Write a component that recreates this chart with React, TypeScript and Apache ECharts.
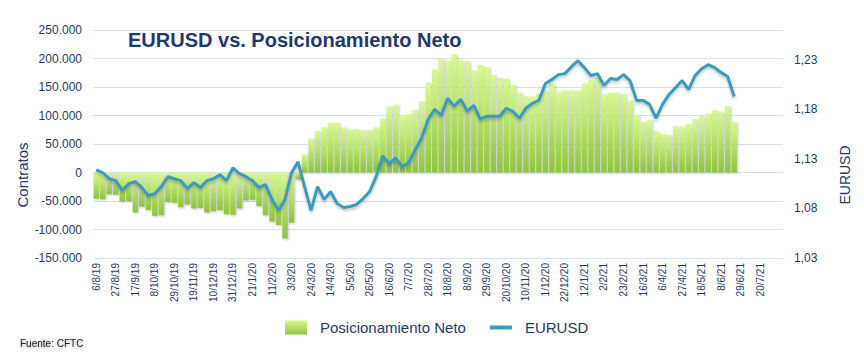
import React, { useEffect, useRef } from "react";
import * as echarts from "echarts";

// Weekly CFTC report dates, starting 6/8/2019 (106 weekly slots on the axis)
const START_DATE = "2019-08-06";
const WEEK_COUNT = 106;

// Net positioning (contracts), weekly
const netPositioning: number[] = [
  -46000, -47000, -38000, -39000, -51000, -50000, -70000, -60000, -66000, -76000,
  -75000, -52000, -53000, -61000, -56000, -63000, -62000, -70000, -68000, -66000,
  -73000, -74000, -63000, -49000, -48000, -59000, -75000, -86000, -92000, -116000,
  -88000, -12000, 32000, 60000, 73000, 79000, 87000, 87000, 79000, 76000,
  76000, 74000, 75000, 79000, 95000, 116000, 119000, 100000, 103000, 110000,
  125000, 158000, 181000, 200000, 197000, 207000, 197000, 196000, 179000, 189000,
  185000, 171000, 166000, 164000, 154000, 140000, 134000, 133000, 138000, 144000,
  156000, 142000, 144000, 144000, 144000, 156000, 162000, 166000, 137000, 140000,
  140000, 138000, 126000, 101000, 89000, 92000, 73000, 68000, 66000, 81000,
  81000, 85000, 94000, 99000, 103000, 109000, 107000, 117000, 89000,
];

// EURUSD weekly close
const eurusd: number[] = [
  1.119, 1.116, 1.110, 1.108, 1.098, 1.105, 1.107, 1.101, 1.093, 1.095,
  1.102, 1.112, 1.110, 1.108, 1.100, 1.106, 1.101, 1.108, 1.110, 1.114,
  1.108, 1.121, 1.115, 1.112, 1.108, 1.101, 1.104, 1.089, 1.078, 1.089,
  1.116, 1.127, 1.102, 1.078, 1.102, 1.089, 1.097, 1.085, 1.081, 1.082,
  1.084, 1.090, 1.097, 1.112, 1.133, 1.125, 1.131, 1.122, 1.126, 1.139,
  1.151, 1.170, 1.180, 1.174, 1.191, 1.183, 1.190, 1.178, 1.184, 1.170,
  1.173, 1.173, 1.173, 1.181, 1.178, 1.171, 1.181, 1.186, 1.189, 1.206,
  1.210, 1.215, 1.216, 1.223, 1.229, 1.222, 1.214, 1.216, 1.204, 1.211,
  1.210, 1.215, 1.209, 1.189, 1.189, 1.185, 1.171, 1.185, 1.195, 1.202,
  1.209, 1.200, 1.214, 1.221, 1.225, 1.222, 1.217, 1.213, 1.193,
];

const leftTicks = { min: -150000, max: 250000, interval: 50000 };
const rightTicks = { min: 1.03, max: 1.26, interval: 0.05 };

function buildCategories(): string[] {
  const out: string[] = [];
  const d0 = new Date(START_DATE + "T12:00:00Z");
  for (let i = 0; i < WEEK_COUNT; i++) {
    const d = new Date(d0.getTime() + i * 7 * 86400000);
    out.push(`${d.getUTCDate()}/${d.getUTCMonth() + 1}/${String(d.getUTCFullYear()).slice(2)}`);
  }
  return out;
}

const NAVY = "#1f3a6e";
const LINE = "#3a9bbf";
const FONT = "Liberation Sans";

export default function App() {
  const ref = useRef<HTMLDivElement>(null);
  useEffect(() => {
    if (!ref.current) return;
    const chart = echarts.init(ref.current, undefined, { renderer: "svg" });
    const categories = buildCategories();
    const barGradient = new echarts.graphic.LinearGradient(0, 0, 0, 1, [
      { offset: 0, color: "#daf994" },
      { offset: 1, color: "#8fc43d" },
    ]);
    chart.setOption({
      animation: false,
      textStyle: { fontFamily: FONT },
      title: {
        text: "EURUSD vs. Posicionamiento Neto",
        left: 128,
        top: 30,
        padding: 0,
        textStyle: { fontFamily: FONT, fontSize: 20, fontWeight: "bold", color: NAVY },
      },
      legend: {
        left: 285,
        top: 320,
        padding: 0,
        itemWidth: 22,
        itemHeight: 14,
        itemGap: 22,
        textStyle: { fontFamily: FONT, fontSize: 15, color: NAVY, padding: [0, 0, 0, 8] },
        data: [
          { name: "Posicionamiento Neto", icon: "rect" },
          {
            name: "EURUSD",
            itemStyle: { opacity: 0 },
            lineStyle: { width: 4, color: LINE, shadowBlur: 0, shadowOffsetY: 0 },
          },
        ],
      },
      grid: { left: 93, right: 81, top: 30, bottom: 99, containLabel: false },
      xAxis: {
        type: "category",
        data: categories,
        boundaryGap: true,
        axisLine: { show: false, onZero: false },
        axisTick: { show: false },
        axisLabel: {
          rotate: 90,
          fontSize: 10,
          color: NAVY,
          margin: 5,
          interval: (i: number) => i % 3 === 0 && i <= 102,
        },
        splitLine: { show: false },
      },
      yAxis: [
        {
          type: "value",
          min: leftTicks.min,
          max: leftTicks.max,
          interval: leftTicks.interval,
          axisLine: { show: false },
          axisTick: { show: false },
          axisLabel: {
            fontSize: 12,
            color: NAVY,
            margin: 11,
            formatter: (v: number) => (v === 0 ? "0" : `${Math.round(v / 1000)}.000`),
          },
          splitLine: { lineStyle: { color: "#d5e0f0", width: 1 } },
        },
        {
          type: "value",
          min: rightTicks.min,
          max: rightTicks.max,
          interval: rightTicks.interval,
          position: "right",
          axisLine: { show: false },
          axisTick: { show: false },
          axisLabel: {
            fontSize: 12,
            color: NAVY,
            margin: 11,
            showMaxLabel: false,
            formatter: (v: number) => v.toFixed(2).replace(".", ","),
          },
          splitLine: { show: false },
        },
      ],
      series: [
        {
          name: "Posicionamiento Neto",
          type: "bar",
          data: netPositioning,
          barCategoryGap: "16%",
          itemStyle: {
            color: barGradient,
            shadowColor: "rgba(90,70,130,0.35)",
            shadowBlur: 2,
            shadowOffsetX: 1,
            shadowOffsetY: 1,
          },
        },
        {
          name: "EURUSD",
          type: "line",
          yAxisIndex: 1,
          data: eurusd,
          symbol: "none",
          lineStyle: {
            color: LINE,
            width: 3,
            shadowColor: "rgba(0,0,0,0.25)",
            shadowBlur: 3,
            shadowOffsetY: 2,
          },
          itemStyle: { color: LINE },
        },
      ],
      graphic: [
        {
          type: "text",
          x: 22,
          y: 175,
          rotation: Math.PI / 2,
          style: {
            text: "Contratos",
            fontFamily: FONT,
            fontSize: 15,
            fill: NAVY,
            align: "center",
            verticalAlign: "middle",
          },
        },
        {
          type: "text",
          x: 845,
          y: 175,
          rotation: Math.PI / 2,
          style: {
            text: "EURUSD",
            fontFamily: FONT,
            fontSize: 14,
            fill: NAVY,
            align: "center",
            verticalAlign: "middle",
          },
        },
        {
          type: "text",
          x: 20,
          y: 343,
          style: {
            text: "Fuente: CFTC",
            fontFamily: FONT,
            fontSize: 10,
            fill: "#222222",
            verticalAlign: "middle",
            textShadowColor: "rgba(0,0,0,0.35)",
            textShadowBlur: 3,
            textShadowOffsetY: 1,
          },
        },
      ],
    });
    return () => chart.dispose();
  }, []);
  return (
    <div
      ref={ref}
      style={{ position: "fixed", left: 0, top: 0, width: 864, height: 357, background: "#ffffff" }}
    />
  );
}
